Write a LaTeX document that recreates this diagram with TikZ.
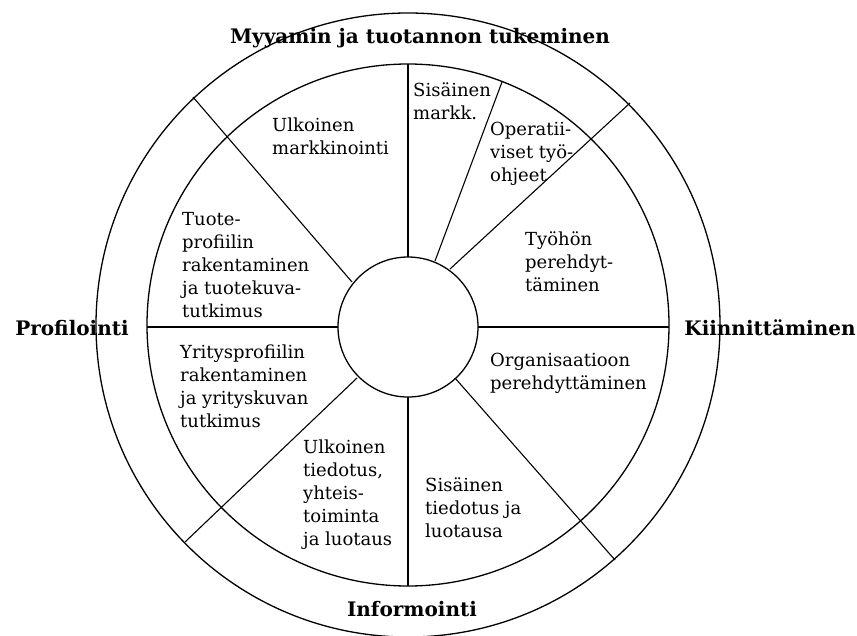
\documentclass[tikz,border=0pt]{standalone}
\usepackage{fontspec}
\setmainfont{DejaVu Serif}
\begin{document}
\begin{tikzpicture}[x=1pt,y=-1pt,
  ring/.style={line width=1.3pt},
  divider/.style={line width=1.1pt},
  sector/.style={anchor=north west, inner sep=0pt, align=left, font=\fontsize{18}{23}\selectfont},
  heading/.style={anchor=base, inner sep=0pt, font=\fontsize{20}{24}\selectfont\bfseries}]
\useasboundingbox[fill=white] (0,0) rectangle (857,635);
\coordinate (C) at (408,325);
% circles
\draw[ring] (C) circle[radius=312pt];
\draw[ring] (C) circle[radius=261pt];
\node[ring, draw, circle, minimum size=140pt, inner sep=0pt] (hub) at (408,327) {};
% dividers
\coordinate (vt1) at (408,64);  \coordinate (vt2) at (408,257);
\coordinate (vb1) at (408,397); \coordinate (vb2) at (408,586);
\coordinate (hl1) at (147,327); \coordinate (hl2) at (338,327);
\coordinate (hr1) at (478,327); \coordinate (hr2) at (669,327);
\coordinate (ul1) at (193,97);  \coordinate (ul2) at (352,282);
\coordinate (ur1) at (630,103); \coordinate (ur2) at (450,269);
\coordinate (sm1) at (502,82);  \coordinate (sm2) at (435,261);
\coordinate (ll1) at (185,542); \coordinate (ll2) at (357,378);
\coordinate (lr1) at (615,560); \coordinate (lr2) at (455,378);
\draw[divider] (vt1) -- (vt2);
\draw[divider] (vb1) -- (vb2);
\draw[divider] (hl1) -- (hl2);
\draw[divider] (hr1) -- (hr2);
\draw[divider] (ul1) -- (ul2);
\draw[divider] (ur1) -- (ur2);
\draw[divider] (sm1) -- (sm2);
\draw[divider] (ll1) -- (ll2);
\draw[divider] (lr1) -- (lr2);
% sector texts
\node[sector] (t1) at (272,118) {Ulkoinen\\markkinointi};
\node[sector] (t2) at (413,83) {Sisäinen\\markk.};
\node[sector] (t3) at (490,122) {Operatii-\\viset työ-\\ohjeet};
\node[sector] (t4) at (525,232) {Työhön\\perehdyt-\\täminen};
\node[sector] (t5) at (182,212) {Tuote-\\profiilin\\rakentaminen\\ja tuotekuva-\\tutkimus};
\node[sector] (t6) at (180,345) {Yritysprofiilin\\rakentaminen\\ja yrityskuvan\\tutkimus};
\node[sector] (t7) at (303,440) {Ulkoinen\\tiedotus,\\yhteis-\\toiminta\\ja luotaus};
\node[sector] (t8) at (490,353) {Organisaatioon\\perehdyttäminen};
\node[sector] (t9) at (425,478) {Sisäinen\\tiedotus ja\\luotausa};
% headings
\node[heading] (h1) at (420,43) {Myyamin ja tuotannon tukeminen};
\node[heading] (h2) at (72,335) {Profilointi};
\node[heading] (h3) at (770,335) {Kiinnittäminen};
\node[heading] (h4) at (412,616) {Informointi};
\end{tikzpicture}
\end{document}
